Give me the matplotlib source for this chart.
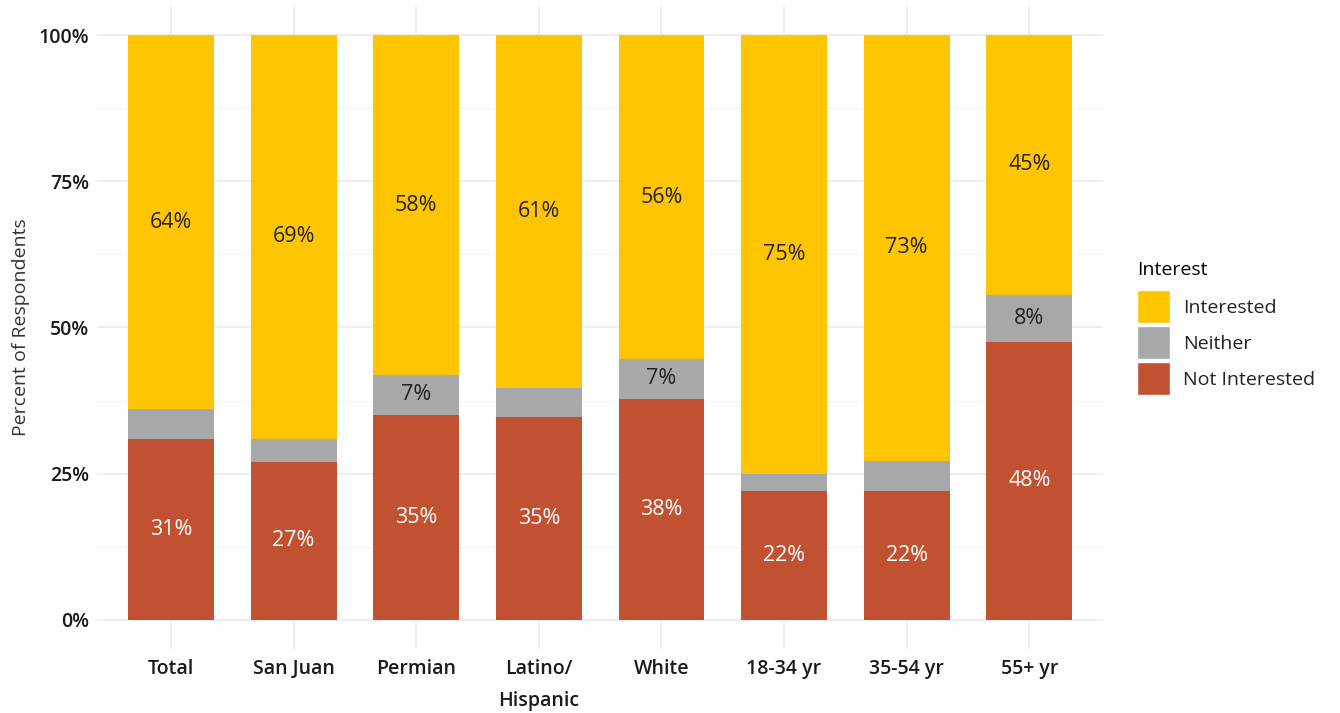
import matplotlib
matplotlib.use('Agg')
import matplotlib.pyplot as plt
import numpy as np
from matplotlib.patches import Patch

categories = ['Total', 'San Juan', 'Permian', 'Latino/\nHispanic', 'White',
              '18-34 yr', '35-54 yr', '55+ yr']
not_interested = [31, 27, 35, 34.7, 37.8, 22, 22, 47.5]
neither = [5, 4, 6.9, 5, 6.8, 3, 5.2, 8.1]
interested = [64, 69, 58.1, 60.3, 55.4, 75, 72.8, 44.4]
ni_labels = ['31%', '27%', '35%', '35%', '38%', '22%', '22%', '48%']
ne_labels = ['', '', '7%', '', '7%', '', '', '8%']
in_labels = ['64%', '69%', '58%', '61%', '56%', '75%', '73%', '45%']

c_int = '#FFC500'
c_nei = '#A7A8AA'
c_not = '#C25132'

plt.rcParams['font.family'] = ['Open Sans', 'DejaVu Sans']

fig = plt.figure(figsize=(13.4, 7.13), dpi=100)
ax = fig.add_axes([0.0727, 0.0898, 0.7503, 0.9018])

x = np.arange(1, len(categories) + 1)
w = 0.7
ni = np.array(not_interested)
ne = np.array(neither)
it = np.array(interested)
ax.bar(x, ni, w, color=c_not, zorder=2)
ax.bar(x, ne, w, bottom=ni, color=c_nei, zorder=2)
ax.bar(x, it, w, bottom=ni + ne, color=c_int, zorder=2)

for i in range(len(x)):
    ax.text(x[i], ni[i] / 2, ni_labels[i], ha='center', va='center',
            color='white', fontsize=15.5, zorder=3)
    if ne_labels[i]:
        ax.text(x[i], ni[i] + ne[i] / 2, ne_labels[i], ha='center',
                va='center', color='#222222', fontsize=15.5, zorder=3)
    ax.text(x[i], ni[i] + ne[i] + it[i] / 2, in_labels[i], ha='center',
            va='center', color='#222222', fontsize=15.5, zorder=3)

ax.set_xlim(0.4, 8.6)
ax.set_ylim(-5, 105)
ax.set_yticks([0, 25, 50, 75, 100])
ax.set_yticklabels(['0%', '25%', '50%', '75%', '100%'])
ax.set_yticks([12.5, 37.5, 62.5, 87.5], minor=True)
ax.set_xticks(x)
ax.set_xticklabels(categories, linespacing=1.85)
ax.grid(True, which='major', color='#EBEBEB', linewidth=1.2, zorder=0)
ax.grid(True, which='minor', axis='y', color='#F4F4F4', linewidth=0.8, zorder=0)
for s in ax.spines.values():
    s.set_visible(False)
ax.tick_params(axis='both', which='both', length=0)
ax.tick_params(axis='x', pad=7, labelsize=14, labelcolor='#1a1a1a')
ax.tick_params(axis='y', pad=6, labelsize=14, labelcolor='#1a1a1a')
for lab in ax.get_xticklabels() + ax.get_yticklabels():
    lab.set_fontweight('semibold')
ax.set_ylabel('Percent of Respondents', fontsize=14, color='#333333', labelpad=6)

handles = [Patch(facecolor=c_int, edgecolor='white', linewidth=1),
           Patch(facecolor=c_nei, edgecolor='white', linewidth=1),
           Patch(facecolor=c_not, edgecolor='white', linewidth=1)]
leg = fig.legend(handles, ['Interested', 'Neither', 'Not Interested'],
                 title='Interest', loc='upper left',
                 bbox_to_anchor=(0.843, 0.645), frameon=False,
                 fontsize=14, title_fontsize=14, handlelength=1.7,
                 handleheight=2.24, handletextpad=0.65, labelspacing=0.15,
                 borderaxespad=0)
leg._legend_box.align = 'left'
leg._legend_box.sep = 8
for t in leg.get_texts():
    t.set_color('#222222')

plt.savefig('out.png', dpi=100)
